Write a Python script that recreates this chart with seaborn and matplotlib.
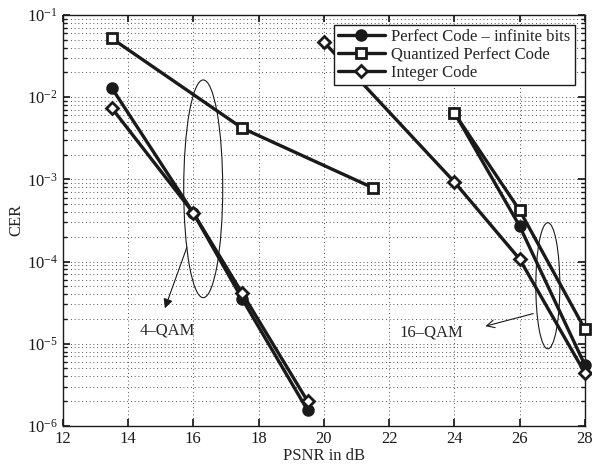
import numpy as np
import pandas as pd
import matplotlib
matplotlib.use("Agg")
import matplotlib.pyplot as plt
import seaborn as sns
from matplotlib.patches import Ellipse

# values (CER vs PSNR)
psnr_4qam_perfect = [13.5, 16, 17.5, 19.5]
cer_4qam_perfect = [1.3e-2, 3.9e-4, 3.5e-5, 1.55e-6]
psnr_4qam_quant = [13.5, 17.5, 21.5]
cer_4qam_quant = [5.2e-2, 4.2e-3, 7.9e-4]
psnr_4qam_int = [13.5, 16, 17.5, 19.5]
cer_4qam_int = [7.4e-3, 3.9e-4, 4.1e-5, 2.0e-6]

psnr_16qam_perfect = [24, 26, 28]
cer_16qam_perfect = [6.5e-3, 2.7e-4, 5.5e-6]
psnr_16qam_quant = [24, 26, 28]
cer_16qam_quant = [6.4e-3, 4.2e-4, 1.5e-5]
psnr_16qam_int = [20, 24, 26, 28]
cer_16qam_int = [4.7e-2, 9.3e-4, 1.07e-4, 4.4e-6]

series = [
    ("Perfect Code \u2013 infinite bits", "o", "k",
     [(psnr_4qam_perfect, cer_4qam_perfect), (psnr_16qam_perfect, cer_16qam_perfect)]),
    ("Quantized Perfect Code", "s", "white",
     [(psnr_4qam_quant, cer_4qam_quant), (psnr_16qam_quant, cer_16qam_quant)]),
    ("Integer Code", "D", "white",
     [(psnr_4qam_int, cer_4qam_int), (psnr_16qam_int, cer_16qam_int)]),
]

sns.set_theme(style="ticks")
plt.rcParams["font.family"] = ["Liberation Serif", "DejaVu Serif"]
plt.rcParams["mathtext.fontset"] = "stix"

fig = plt.figure(figsize=(5.92, 4.70), dpi=100)
ax = fig.add_axes([0.106, 0.094, 0.882, 0.874])

for label, marker, face, segments in series:
    for i, (xs, ys) in enumerate(segments):
        df = pd.DataFrame({"psnr": xs, "cer": ys})
        sns.lineplot(data=df, x="psnr", y="cer", ax=ax, color="k", linewidth=2.4,
                     marker=marker, markersize=7 if marker != "D" else 6.5,
                     markerfacecolor=face, markeredgecolor="k", markeredgewidth=2,
                     clip_on=False, zorder=3,
                     label=label if i == 0 else None)

ax.set_yscale("log")
ax.set_xlim(12, 28)
ax.set_ylim(1e-6, 1e-1)
ax.set_xticks(np.arange(12, 29, 2))
ax.set_xlabel("PSNR in dB", fontsize=12, labelpad=1)
ax.set_ylabel("CER", fontsize=12, labelpad=2)
ax.tick_params(which="both", direction="in", top=True, right=True, labelsize=12, colors="k")
ax.tick_params(which="major", length=5)
ax.tick_params(which="minor", length=3)
ax.grid(True, which="both", linestyle=(0, (1, 3.5)), color="k", linewidth=0.6)
for s in ax.spines.values():
    s.set_color("k")
    s.set_linewidth(1.0)

# ellipses marking the groups
ax.add_patch(Ellipse((0.269, 0.577), 0.0747, 0.530, transform=ax.transAxes,
                     fill=False, edgecolor="k", linewidth=0.8))
ax.add_patch(Ellipse((0.929, 0.341), 0.046, 0.307, transform=ax.transAxes,
                     fill=False, edgecolor="k", linewidth=0.8))

ax.annotate("", xy=(15.10, 2.5e-5), xytext=(15.83, 1.59e-4),
            arrowprops=dict(arrowstyle="-|>", color="k", lw=0.8, mutation_scale=14))
ax.text(15.19, 1.45e-5, "4\u2013QAM", fontsize=12, ha="center", va="center")
ax.annotate("", xy=(24.87, 1.6e-5), xytext=(26.50, 2.37e-5),
            arrowprops=dict(arrowstyle="->", color="k", lw=0.8, mutation_scale=14))
ax.text(23.28, 1.35e-5, "16\u2013QAM", fontsize=12, ha="center", va="center")

leg = ax.legend(loc="upper right", fontsize=12, handlelength=2.8, frameon=True,
                fancybox=False, edgecolor="k", framealpha=1, borderpad=0.25,
                labelspacing=0.1, handletextpad=0.4, borderaxespad=0.6)
leg.get_frame().set_linewidth(1.0)
leg.set_zorder(5)

fig.savefig("out.png", dpi=100)
